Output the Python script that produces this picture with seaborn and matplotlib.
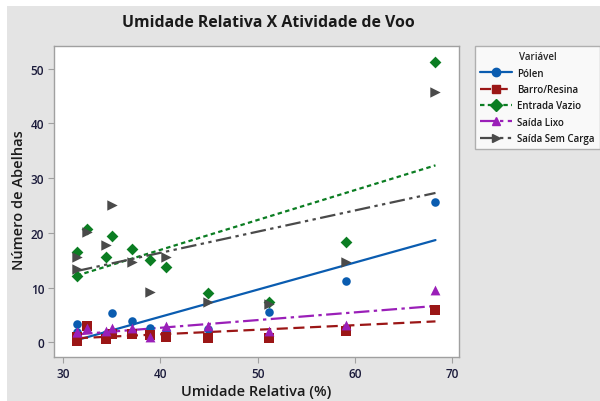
import numpy as np
import pandas as pd
import seaborn as sns
import matplotlib
matplotlib.use("Agg")
import matplotlib.pyplot as plt
from matplotlib.lines import Line2D
from matplotlib.patches import Rectangle

# ---- data ----
umidade = [31.4, 31.4, 32.4, 34.4, 35.0, 37.1, 38.9, 40.6, 44.9, 51.2, 59.1, 68.3]
polen = [3.35, 1.8, 2.9, 1.5, 5.3, 3.8, 2.6, 2.1, 2.5, 5.5, 11.2, 25.7]
barro_resina = [0.3, 1.0, 3.0, 0.6, 1.5, 1.5, 1.4, 0.9, 0.7, 0.7, 2.1, 5.9]
entrada_vazio = [16.5, 12.1, 20.7, 15.5, 19.5, 17.1, 15.1, 13.7, 9.0, 7.3, 18.4, 51.3]
saida_lixo = [1.8, 1.8, 2.6, 2.0, 2.7, 2.6, 0.9, 3.0, 3.0, 2.1, 3.2, 9.6]
saida_sem_carga = [15.5, 13.4, 20.1, 17.7, 25.1, 14.7, 9.1, 15.5, 7.4, 7.0, 14.6, 45.7]

series_names = ["Pólen", "Barro/Resina", "Entrada Vazio", "Saída Lixo", "Saída Sem Carga"]
series_values = [polen, barro_resina, entrada_vazio, saida_lixo, saida_sem_carga]

x_ticks = [30, 40, 50, 60, 70]
y_ticks = [0, 10, 20, 30, 40, 50]

title = "Umidade Relativa X Atividade de Voo"
x_label = "Umidade Relativa (%)"
y_label = "Número de Abelhas"
legend_title = "Variável"

# ---- styles ----
colors = ["#0a5cb0", "#9b1616", "#0b7d22", "#9a1fb8", "#4a4a4a"]
markers = ["o", "s", "D", "^", ">"]
msizes = [38, 42, 36, 50, 56]
linestyles = ["-", (0, (5, 2.5)), (0, (2, 1.5)), (0, (7, 2, 1.5, 2)), (0, (7, 2, 1.5, 2, 1.5, 2))]

df = pd.DataFrame({"Umidade": umidade})
for n, v in zip(series_names, series_values):
    df[n] = v
long = df.melt(id_vars="Umidade", var_name="Variável", value_name="Abelhas")

sns.set_style("white")
plt.rcParams["font.family"] = ["Open Sans", "DejaVu Sans"]

fig = plt.figure(figsize=(6.0, 4.02), dpi=100)
fig.patch.set_facecolor("white")
fig.patches.append(Rectangle((7 / 600, 0), 1, 1 - 7 / 402, transform=fig.transFigure,
                             facecolor="#e4e4e4", edgecolor="none", zorder=-10))

ax = fig.add_axes([54 / 600, 1 - 358 / 402, (459 - 54) / 600, (358 - 47) / 402])
ax.set_facecolor("white")

for i, n in enumerate(series_names):
    sub = long[long["Variável"] == n]
    sns.regplot(data=sub, x="Umidade", y="Abelhas", ax=ax, ci=None,
                marker=markers[i], color=colors[i],
                scatter_kws=dict(s=msizes[i], alpha=1, linewidths=0, zorder=3),
                line_kws=dict(linestyle=linestyles[i], linewidth=1.6, zorder=2))

ax.set_xlim(29.04, 70.72)
ax.set_ylim(-2.69, 54.15)
ax.set_xticks(x_ticks)
ax.set_yticks(y_ticks)
ax.set_xlabel("")
ax.set_ylabel("")
for s in ax.spines.values():
    s.set_color("#a0a0a0")
    s.set_linewidth(1.0)
ax.tick_params(axis="both", which="both", direction="out", length=4, width=0.8,
               color="#a0a0a0", labelsize=8.5, labelcolor="#1a1a3a", pad=3,
               bottom=True, left=True)
for lab in ax.get_xticklabels() + ax.get_yticklabels():
    lab.set_fontweight("semibold")

fig.text(268 / 600, 1 - 23 / 402, title, ha="center", va="center", fontsize=11.4,
         fontweight="bold", color="#1a1a1a")
fig.text(256 / 600, 1 - 392 / 402, x_label, ha="center", va="center", fontsize=10.5,
         fontweight="semibold", color="#1a1a1a")
fig.text(19 / 600, 1 - 200 / 402, y_label, ha="center", va="center", rotation=90,
         fontsize=10.5, fontweight="semibold", color="#1a1a1a")

handles = [Line2D([0], [0], color=colors[i], linestyle=linestyles[i], linewidth=1.6,
                  marker=markers[i], markersize=6) for i in range(len(series_names))]
leg = fig.legend(handles, series_names, title=legend_title, loc="upper left",
                 bbox_to_anchor=(475 / 600, 1 - 47 / 402), frameon=True, fancybox=False,
                 fontsize=7.0, title_fontsize=7.0, handlelength=3.3, handletextpad=0.5,
                 labelspacing=0.55, borderpad=0.55, borderaxespad=0)
leg.get_frame().set_edgecolor("#a0a0a0")
leg.get_frame().set_linewidth(1.0)
leg.get_title().set_fontweight("semibold")
for t in leg.get_texts():
    t.set_fontweight("semibold")
    t.set_color("#1a1a1a")

fig.savefig("out.png", dpi=100, facecolor=fig.get_facecolor())
